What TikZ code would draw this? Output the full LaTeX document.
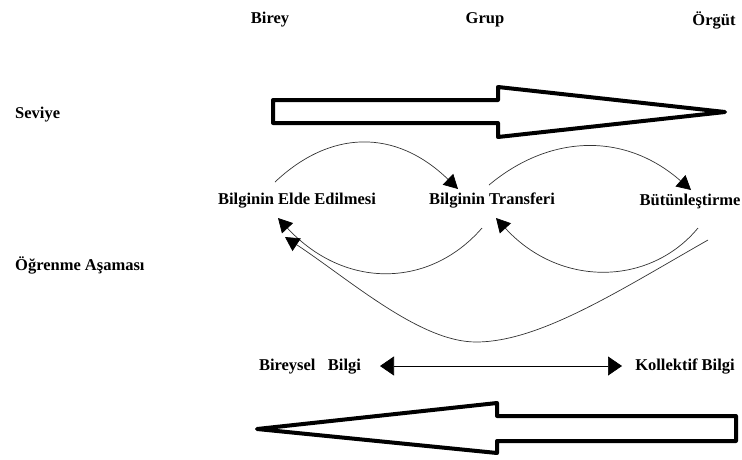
\documentclass[tikz,border=0pt]{standalone}
\usepackage{fontspec}
\setmainfont{Liberation Serif}
\usetikzlibrary{arrows.meta}
\begin{document}
\begin{tikzpicture}[x=1pt,y=-1pt,
  lbl/.style={font=\fontsize{16.5}{18}\selectfont\bfseries, inner sep=0pt},
  bigarrow/.style={draw=black, line width=4pt, line join=round, fill=white},
  flow/.style={draw=black!80, line width=0.7pt, -{Triangle[length=14pt,width=15pt,color=black]}},
  both/.style={draw=black, line width=0.7pt, {Triangle[length=14pt,width=19pt]}-{Triangle[length=14pt,width=19pt]}}]
\useasboundingbox (0,0) rectangle (742,459);

% column headings
\node[lbl] (birey) at (270,20) {Birey};
\node[lbl] (grup) at (485,20) {Grup};
\node[lbl] (orgut) at (714,20) {Örgüt};

% row headings
\node[lbl, anchor=west] (seviye) at (15,115) {Seviye};
\node[lbl, anchor=west] (asama) at (15,265) {Öğrenme Aşaması};

% level arrow (individual -> organisation)
\draw[bigarrow] (273,100) -- (498,100) -- (498,87) -- (725,112) -- (498,137)
  -- (498,123) -- (273,123) -- cycle;

% learning stages
\node[lbl] (elde) at (297,201) {Bilginin Elde Edilmesi};
\node[lbl] (transfer) at (492,201) {Bilginin Transferi};
\node[lbl] (butun) at (690,201) {Bütünleştirme};

\coordinate (e1) at (275,182);
\coordinate (t1) at (458,189);
\coordinate (t2) at (489,185);
\coordinate (b1) at (691,190);
\coordinate (t3) at (482,228);
\coordinate (e2) at (278,218);
\coordinate (b2) at (698,228);
\coordinate (t4) at (496,218);
\coordinate (b3) at (708,240);
\coordinate (low) at (476,342);
\coordinate (e3) at (285,237);

% forward transitions
\draw[flow] (e1) .. controls (330,130) and (395,128) .. (t1);
\draw[flow] (t2) .. controls (550,134) and (625,132) .. (b1);
% feedback transitions
\draw[flow] (t3) .. controls (430,288) and (345,290) .. (e2);
\draw[flow] (b2) .. controls (650,286) and (560,288) .. (t4);
\draw[flow] (b3) .. controls (620,290) and (540,342) .. (low)
  .. controls (420,342) and (350,280) .. (e3);

% knowledge types
\node[lbl] (bireysel) at (310,367) {Bireysel\ \ \ Bilgi};
\node[lbl] (kollektif) at (685,367) {Kollektif Bilgi};
\coordinate (bl) at (380,366);
\coordinate (br) at (622,366);
\draw[both] (bl) -- (br);

% return arrow (organisation -> individual)
\draw[bigarrow] (736,416) -- (497,416) -- (497,403) -- (257,429) -- (497,453)
  -- (497,441) -- (736,441) -- cycle;
\end{tikzpicture}
\end{document}
